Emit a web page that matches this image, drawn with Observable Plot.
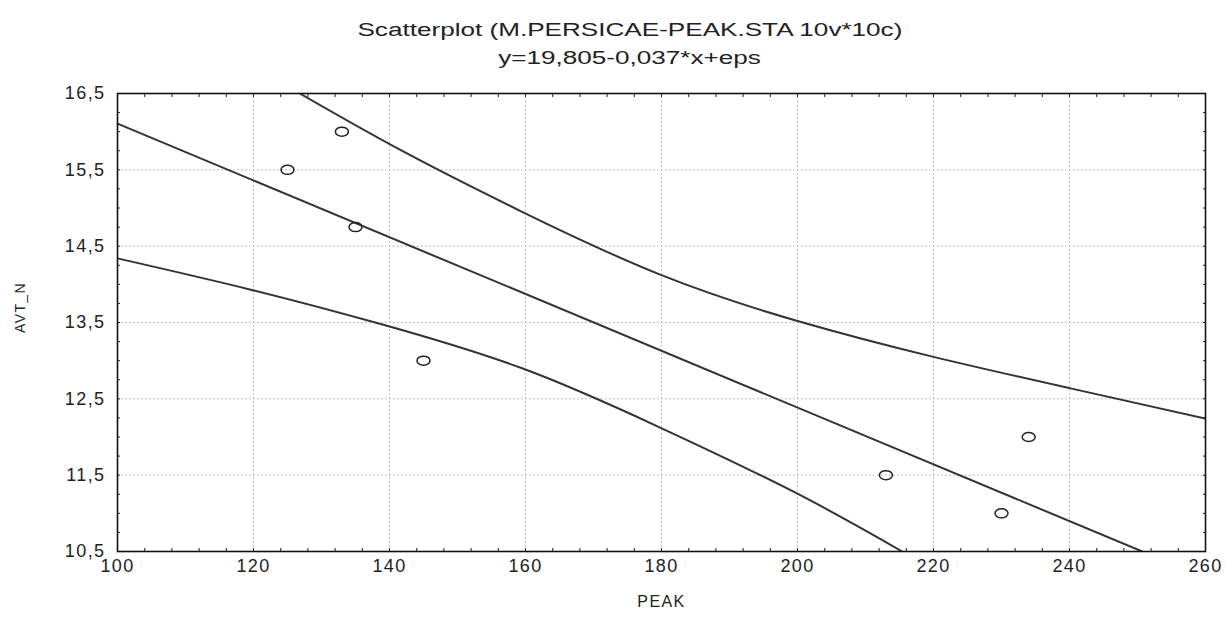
<!DOCTYPE html>
<html><head><meta charset="utf-8">
<script src="https://cdn.jsdelivr.net/npm/d3@7"></script>
<script src="https://cdn.jsdelivr.net/npm/@observablehq/plot@0.6"></script>
<style>
body{margin:0;background:#fff;font-family:"Liberation Sans",Arial,sans-serif;}
#title{height:75px;width:1227px;position:relative;}
#title div{position:absolute;left:0;width:1260px;text-align:center;font-size:18px;color:#222;line-height:20px;}
#title span{display:inline-block;transform:scaleX(1.45);transform-origin:center;}
#chart svg text{letter-spacing:1.4px;}
</style></head><body>
<div id="title"><div style="top:20px"><span>Scatterplot (M.PERSICAE-PEAK.STA 10v*10c)</span></div><div style="top:48px"><span>y=19,805-0,037*x+eps</span></div></div>
<div id="chart"></div>
<script>
// Observed points
const peak = [125, 133, 135, 145, 213, 230, 234];
const avtN = [15.5, 16.0, 14.75, 13.0, 11.5, 11.0, 12.0];
// Regression line y = 19.805 - 0.037x (endpoints)
const regX = [100, 250.7];
const regY = [16.105, 10.5];
// 95% confidence band
const upperX = [126.8, 141.6, 159.5, 180, 200, 220, 240, 260];
const upperY = [16.5, 15.76, 14.95, 14.12, 13.52, 13.05, 12.64, 12.24];
const lowerX = [100, 119.6, 139.1, 159.5, 179.4, 199.7, 215.4];
const lowerY = [14.34, 13.93, 13.47, 12.9, 12.14, 11.27, 10.5];
// Axis ticks
const xTicks = [100, 120, 140, 160, 180, 200, 220, 240, 260];
const yTicks = [10.5, 11.5, 12.5, 13.5, 14.5, 15.5, 16.5];
const xGrid = [120, 140, 160, 180, 200, 220, 240];
const yGrid = [11.5, 12.5, 13.5, 14.5, 15.5];
const xMinor = d3.range(100, 261, 4);
const yMinor = d3.range(10.5, 16.51, 0.25);

const pts = peak.map((x, i) => ({x, y: avtN[i]}));
const reg = regX.map((x, i) => ({x, y: regY[i]}));
const up = upperX.map((x, i) => ({x, y: upperY[i]}));
const lo = lowerX.map((x, i) => ({x, y: lowerY[i]}));

const fmt1 = d => d.toFixed(1).replace(".", ",");
const ellipse = {draw(ctx, size) {
  const r = Math.sqrt(size / Math.PI), rx = r * 1.3, ry = r * 0.9, k = 0.5523;
  ctx.moveTo(rx, 0);
  ctx.bezierCurveTo(rx, ry * k, rx * k, ry, 0, ry);
  ctx.bezierCurveTo(-rx * k, ry, -rx, ry * k, -rx, 0);
  ctx.bezierCurveTo(-rx, -ry * k, -rx * k, -ry, 0, -ry);
  ctx.bezierCurveTo(rx * k, -ry, rx, -ry * k, rx, 0);
  ctx.closePath();
}};
const lineStyle = {x: "x", y: "y", stroke: "#333", strokeWidth: 2, clip: true};
const minor = {tickSize: -3, tickFormat: () => "", label: null, stroke: "#222"};

const chart = Plot.plot({
  width: 1227, height: 542,
  marginTop: 18, marginBottom: 66, marginLeft: 117, marginRight: 22,
  style: {fontFamily: "'Liberation Sans', Arial, sans-serif", fontSize: "18px", color: "#222", background: "white"},
  x: {domain: [100, 260]},
  y: {domain: [10.5, 16.5]},
  marks: [
    Plot.gridX(xGrid, {stroke: "#c4c4c4", strokeOpacity: 1, strokeDasharray: "2,2", strokeWidth: 1}),
    Plot.gridY(yGrid, {stroke: "#a8a8a8", strokeOpacity: 1, strokeDasharray: "1.5,2.5", strokeWidth: 1}),
    Plot.axisX(xMinor, {...minor}),
    Plot.axisX(xMinor, {...minor, anchor: "top"}),
    Plot.axisY(yMinor, {...minor}),
    Plot.axisY(yMinor, {...minor, anchor: "right"}),
    Plot.axisX(xTicks, {tickSize: 0, tickPadding: 8, tickFormat: d => String(d), label: null, fontSize: 18}),
    Plot.axisY(yTicks, {tickSize: 0, tickPadding: 12, tickFormat: fmt1, label: null, fontSize: 18}),
    Plot.text(["PEAK"], {frameAnchor: "bottom", dy: 55, fontSize: 16, fill: "#222"}),
    Plot.text(["AVT_N"], {frameAnchor: "left", textAnchor: "middle", rotate: -90, dx: -97, dy: -15, fontSize: 14, fill: "#222"}),
    Plot.line(reg, lineStyle),
    Plot.line(up, {...lineStyle, curve: "natural"}),
    Plot.line(lo, {...lineStyle, curve: "natural"}),
    Plot.dot(pts, {x: "x", y: "y", r: 5, symbol: ellipse, stroke: "#222", strokeWidth: 1.5, fill: "none"}),
    Plot.frame({stroke: "#111", strokeWidth: 1.6})
  ]
});
document.getElementById("chart").appendChild(chart);
</script>
</body></html>
